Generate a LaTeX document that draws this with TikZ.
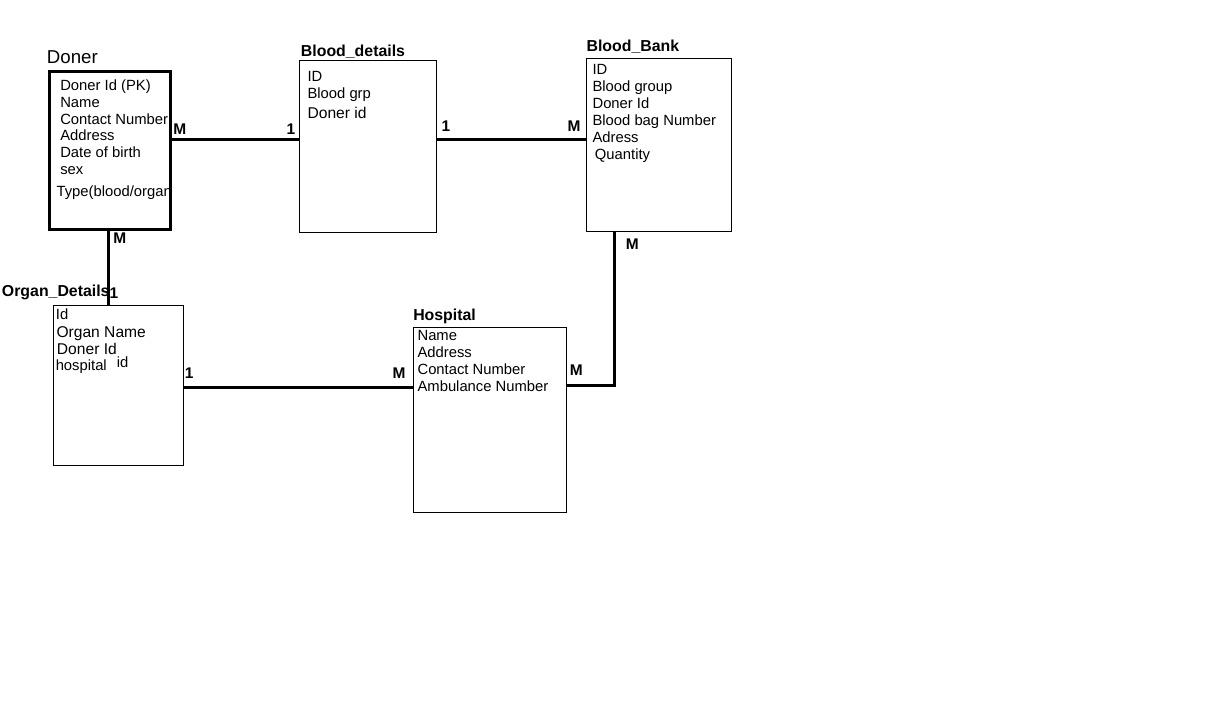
\documentclass[tikz,border=0pt]{standalone}
\usepackage{fontspec}
\setmainfont{Liberation Sans}

\begin{document}
\begin{tikzpicture}[
		x=0.75pt, y=-0.75pt,
		entity/.style={draw, line width=0.75pt, inner sep=0pt},
		title/.style={anchor=base west, inner sep=0pt, font=\fontsize{11.9}{14}\selectfont\bfseries},
		field/.style={anchor=base west, inner sep=0pt, font=\fontsize{11.1}{13}\selectfont},
		bigfield/.style={field, font=\fontsize{11.7}{14}\selectfont},
		card/.style={anchor=base west, inner sep=0pt, font=\fontsize{11.6}{13}\selectfont\bfseries},
		link/.style={line width=2.25pt}
		]
	
		\useasboundingbox (0,0) rectangle (1217,707);
	
		% entities
		\node[entity, line width=2.25pt, minimum width=91pt, minimum height=118.7pt] (doner) at (110, 150.2) {};
		\node[entity, minimum width=102.5pt, minimum height=128.7pt] (bdetails) at (367.7, 146.5) {};
		\node[entity, minimum width=108.75pt, minimum height=130pt] (bbank) at (659.2, 145) {};
		\node[entity, minimum width=97.5pt, minimum height=120.3pt] (organ) at (118.3, 385.5) {};
		\node[entity, minimum width=115pt, minimum height=138.5pt] (hospital) at (490, 420) {};
	
		\node[title, font=\fontsize{14}{16}\selectfont] (t-doner) at (46.7, 63.3) {Doner};
		\node[title] (t-bdetails) at (300.7, 56) {Blood\_details};
		\node[title] (t-bbank) at (586.3, 51) {Blood\_Bank};
		\node[title] (t-organ) at (1.7, 296) {Organ\_Details};
		\node[title] (t-hospital) at (413, 320.7) {Hospital};
	
		% attributes
		\foreach \t [count=\n] in {Doner Id (PK), Name, Contact Number, Address, Date of birth, sex}
			\node[field] (doner-f\n) at (60, 74 + 16.7*\n) {\t};
		\node[field] (doner-f7) at (56.3, 196.7) {Type(blood/organ};
	
		\node[field] (bdetails-f1) at (307.3, 81.7) {ID};
		\node[field] (bdetails-f2) at (307.3, 98.5) {Blood grp};
		\node[bigfield] (bdetails-f3) at (307.3, 118.7) {Doner id};
	
		\foreach \t [count=\n] in {ID, Blood group, Doner Id, Blood bag Number, Adress}
			\node[field] (bbank-f\n) at (592.3, 57.35 + 16.95*\n) {\t};
		\node[field] (bbank-f6) at (594.7, 159) {Quantity};
	
		\node[field] (organ-f1) at (55.7, 319.3) {Id};
		\node[bigfield] (organ-f2) at (56.3, 337.3) {Organ Name};
		\node[bigfield] (organ-f3) at (56.7, 354.7) {Doner Id};
		\node[field] (organ-f4) at (55.5, 370.7) {hospital};
		\node[field] (organ-f5) at (116.5, 367.3) {id};
	
		\foreach \t [count=\n] in {Name, Address, Contact Number, Ambulance Number}
			\node[field] (hospital-f\n) at (417.3, 323.7 + 17*\n) {\t};
	
		% relations
		\coordinate (rowA) at (0, 139.3);
		\coordinate (rowB) at (0, 387.5);
		\coordinate (rowC) at (0, 385.7);
		\coordinate (colA) at (108, 0);
		\coordinate (colB) at (614, 0);
	
		\draw[link] (doner.east |- rowA) -- (bdetails.west |- rowA);
		\draw[link] (bdetails.east |- rowA) -- (bbank.west |- rowA);
		\draw[link] (doner.south -| colA) -- ([yshift=-0.75pt]organ.north -| colA);
		\draw[link] (organ.east |- rowB) -- (hospital.west |- rowB);
		\draw[link] (bbank.south -| colB) |- (hospital.east |- rowC);
	
		\node[card] (c1) at (173, 134.3) {M};
		\node[card] (c2) at (286.3, 134.3) {1};
		\node[card] (c3) at (441.3, 131) {1};
		\node[card] (c4) at (567.3, 131) {M};
		\node[card] (c5) at (113, 243.3) {M};
		\node[card] (c6) at (109.3, 298.3) {1};
		\node[card] (c7) at (184.6, 378.7) {1};
		\node[card] (c8) at (392.3, 378.3) {M};
		\node[card] (c9) at (569.7, 375) {M};
		\node[card] (c10) at (625.7, 249) {M};
	
	\end{tikzpicture}
\end{document}
